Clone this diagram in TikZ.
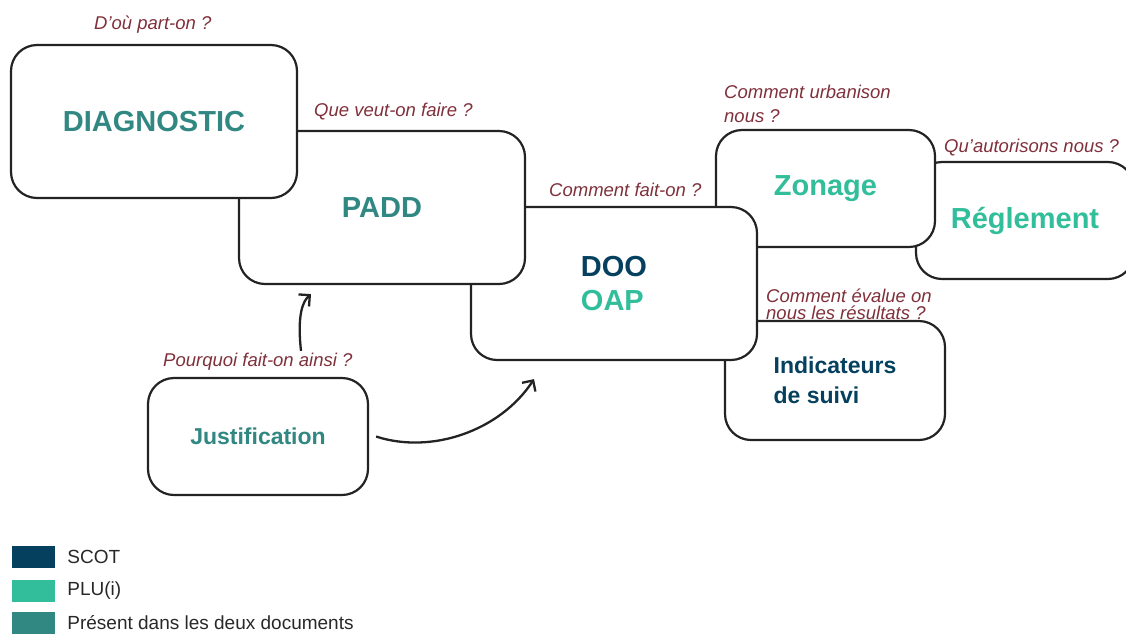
\documentclass[tikz,border=0pt]{standalone}
\usepackage{fontspec}
\setmainfont{Liberation Sans}
\usetikzlibrary{arrows.meta, positioning, calc}
\definecolor{scotblue}{RGB}{5,65,95}
\definecolor{plugreen}{RGB}{51,190,155}
\definecolor{bothteal}{RGB}{49,135,130}
\definecolor{questionred}{RGB}{128,48,58}
\definecolor{linegray}{RGB}{35,35,35}
\definecolor{textgray}{RGB}{40,40,40}

\begin{document}
\begin{tikzpicture}[
        x=1pt, y=-1pt,
        box/.style={rectangle, draw=linegray, fill=white, line width=2.2pt, rounded corners=26pt, align=center, font=\fontsize{29}{34}\selectfont\bfseries},
        bigbox/.style={box, minimum width=286pt, minimum height=153pt},
        smallbox/.style={box, minimum width=220pt, minimum height=117pt},
        question/.style={inner sep=0pt, anchor=west, align=left, text=questionred, font=\fontsize{18.5}{24}\selectfont\itshape},
        link/.style={-{Straight Barb[length=8pt, width=16pt]}, line width=2.3pt, linegray},
        legbox/.style={rectangle, minimum width=43pt, minimum height=22pt, inner sep=0pt},
        legtext/.style={inner sep=0pt, text=textgray, font=\fontsize{19}{22}\selectfont}
    ]
        \useasboundingbox (0,0) rectangle (1126,633);

        % boxes, back to front
        \node[smallbox, text=plugreen, minimum width=218pt] (regl) at (1025,220.5) {Réglement};
        \node[smallbox, text=plugreen, minimum width=219pt] (zon) at (825.5,188.5) {Zonage};
        \node[smallbox, text=scotblue, align=left, minimum height=119pt, font=\fontsize{23}{30}\selectfont\bfseries] (ind) at (835,380.5) {Indicateurs\\de suivi};
        \node[bigbox, align=left] (doo) at (614,283.5) {\textcolor{scotblue}{DOO}\\\textcolor{plugreen}{OAP}};
        \node[bigbox, text=bothteal] (padd) at (382,207.5) {PADD};
        \node[bigbox, text=bothteal] (diag) at (154,121.5) {DIAGNOSTIC};
        \node[smallbox, text=bothteal, font=\fontsize{23}{30}\selectfont\bfseries] (just) at (258,436.5) {Justification};

        % questions
        \node[question] (whence) at (94,25) {D’où part-on ?};
        \node[question] (what) at (314,112) {Que veut-on faire ?};
        \node[question] (how) at (549,190) {Comment fait-on ?};
        \node[question] (urban) at (724,104) {Comment urbanison\\nous ?};
        \node[question] (allow) at (944,148) {Qu’autorisons nous ?};
        \node[question, font=\fontsize{18.5}{17}\selectfont\itshape] (eval) at (766,304.5) {Comment évalue on\\nous les résultats ?};
        \node[question] (why) at (163,362) {Pourquoi fait-on ainsi ?};

        \draw[link] ($(just.north)+(43,-26)$) .. controls +(-4,-37) and +(-8,7) .. ($(padd.south)+(-71,9)$);
        \draw[link] ($(just.east)+(7,0)$) .. controls +(55,18) and +(-34,52) .. ($(doo.south)+(-80,18)$);

        % legend
        \node[legbox, fill=scotblue] (lscot) at (33.5,557) {};
        \node[legbox, fill=plugreen] (lplu) at (33.5,591) {};
        \node[legbox, fill=bothteal] (lboth) at (33.5,622.5) {};
        \node[legtext, right=12pt of lscot] (tscot) {SCOT};
        \node[legtext, right=12pt of lplu] (tplu) {PLU(i)};
        \node[legtext, right=12pt of lboth] (tboth) {Présent dans les deux documents};
    \end{tikzpicture}
\end{document}
